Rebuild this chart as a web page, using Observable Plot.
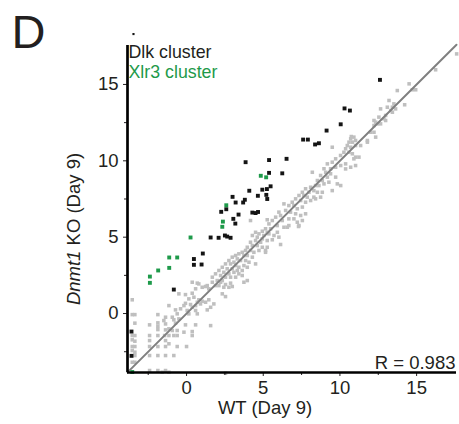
<!DOCTYPE html>
<html><head><meta charset="utf-8">
<script src="https://cdn.jsdelivr.net/npm/d3@7"></script>
<script src="https://cdn.jsdelivr.net/npm/@observablehq/plot@0.6"></script>
<style>html,body{margin:0;padding:0;background:#fff;} svg{display:block}</style>
</head><body><div id="chart"></div>
<script>
const xDomain = [-3.85, 17.6];
const yDomain = [-3.86, 17.55];
const majorTicks = [0, 5, 10, 15];
const minorTicks = [-2.5, 2.5, 7.5, 12.5];
const legendLabels = ["Dlk cluster", "Xlr3 cluster"];
const panelLetter = "D";
const rText = "R = 0.983";
const xTitle = "WT (Day 9)";
const yTitleItalic = "Dnmt1";
const yTitleRest = " KO (Day 9)";

// all other genes (grey)
const otherGenes = [
[0.37,2.05],[0.70,1.99],[1.24,1.77],[1.68,2.05],[1.89,1.83],[2.22,2.05],[2.54,1.90],[2.87,1.99],[2.98,1.77],[2.43,1.72],[2.33,1.29],[2.54,1.11],
[-0.50,1.29],[-0.07,1.24],[0.37,1.33],[0.48,1.07],[0.15,0.96],
[-0.17,0.52],[-0.07,0.67],[0.26,0.59],[0.37,0.41],[0.59,0.52],[0.70,0.74],[0.80,0.90],[0.91,0.63],[1.02,0.81],[1.24,0.74],[1.45,0.90],[1.35,0.24],[1.57,0.41],[1.78,0.63],
[-1.15,0.52],[-0.72,0.24],[-0.39,0.31],[-0.61,-0.02],[0.04,0.20],[0.15,-0.02],[0.59,0.20],[0.70,-0.02],
[-3.54,0.90],[-3.54,-0.07],[-3.37,-0.07],[-1.87,-0.07],[-1.37,-0.24],[-0.93,-0.24],[-0.83,-0.41],[-1.48,-0.46],[-0.50,-0.35],
[-3.37,-0.63],[-2.41,-0.74],[-1.87,-0.61],[-1.87,-0.83],[-1.37,-0.68],[-0.72,-0.63],[-0.07,-0.74],[0.59,-0.74],[1.57,-0.79],
[-1.87,-1.05],[-1.37,-1.07],[-1.15,-1.00],[-0.93,-1.11],[-0.61,-1.11],[-0.17,-1.22],[0.37,-1.18],
[-3.54,-1.44],[-3.37,-1.44],[-2.41,-1.44],[-1.87,-1.44],[-1.43,-1.44],[-1.15,-1.44],[-0.83,-1.44],[-0.61,-1.44],[0.37,-1.44],
[-3.54,-1.72],[-3.37,-1.81],[-2.41,-1.77],[-1.37,-1.77],[-1.15,-1.98],
[-3.54,-2.16],[-3.37,-2.16],[-2.41,-2.16],[-1.87,-2.16],[-1.37,-2.16],[-0.61,-2.16],[0.00,-2.16],
[-3.54,-2.42],[-3.37,-2.53],
[-3.37,-2.75],[-2.41,-2.75],[-1.87,-2.75],[-1.37,-2.75],[-0.83,-2.75],
[-3.54,-3.19],[-3.37,-3.19],
[-2.41,-3.73],[-1.87,-3.73],[-1.37,-3.73],[-1.59,-3.84],[-1.15,-3.84],[2.54,-3.91],
[4.94,5.39],[5.26,5.32],[5.92,5.32],[4.50,5.32],[4.72,5.22],[5.04,5.11],[5.37,5.22],[5.70,5.11],[4.29,5.11],[4.61,5.00],[4.94,4.89],[4.50,4.78],[4.83,4.67],[5.26,4.78],[5.59,4.83],[6.02,5.00],[4.17,4.67],[4.29,4.45],[4.61,4.45],[4.94,4.34],[5.26,4.34],[5.15,4.13],[3.96,4.34],[3.85,4.13],[4.17,4.13],[4.39,4.01],[4.72,4.13],[3.63,4.01],[3.41,3.91],[3.74,3.80],[3.96,3.80],[4.29,3.69],[3.20,3.80],[2.98,3.69],[3.31,3.58],[3.52,3.47],[3.85,3.47],[4.07,3.36],[3.09,3.36],[2.76,3.47],[2.87,3.25],[3.20,3.14],[3.41,3.03],[3.74,3.14],[3.96,3.03],[2.54,3.25],[2.33,3.03],[2.65,2.93],[2.98,2.93],[3.31,2.82],[3.63,2.82],[2.11,2.82],[2.43,2.70],[2.76,2.60],[3.09,2.70],[3.41,2.60],[1.89,2.60],[2.22,2.49],[2.54,2.38],[2.87,2.38],[3.20,2.38],[3.63,2.49],[1.68,2.38],[2.00,2.16],[2.33,2.16],[1.35,1.83],[2.11,1.83],[2.76,1.72],[0.80,1.94],[1.02,1.72],[0.59,1.62],[1.45,1.62],[3.96,2.16],[3.74,2.05],[4.50,3.25],[5.15,4.01],[6.13,4.52],[4.17,6.09],[5.26,6.14],
[9.50,9.91],[9.18,9.80],[9.39,9.48],[9.72,9.58],[10.05,9.69],[10.37,9.80],[10.70,9.58],[8.96,9.48],[9.07,9.25],[9.39,9.15],[9.72,8.93],[9.18,8.93],[8.74,9.04],[8.85,8.71],[8.53,8.71],[8.20,9.25],[8.41,8.38],[8.63,8.38],[8.96,8.49],[9.28,8.60],[10.05,8.38],[8.09,8.27],[7.76,8.17],[7.98,7.94],[8.30,8.05],[8.53,7.94],[7.55,7.94],[7.33,7.73],[7.65,7.73],[7.87,7.62],[8.30,7.62],[8.85,7.94],[9.50,8.05],[7.11,7.51],[7.44,7.40],[7.76,7.29],[8.09,7.40],[8.41,7.51],[6.89,7.29],[6.67,7.07],[7.00,7.07],[7.22,6.86],[7.55,6.97],[6.35,7.18],[6.46,6.75],[6.78,6.64],[7.11,6.53],[7.44,6.42],[7.76,6.53],[6.02,6.64],[6.13,6.42],[5.81,6.31],[6.24,6.09],[6.67,6.20],[7.00,6.20],[7.22,5.98],[7.55,6.09],[5.59,6.09],[5.37,5.87],[5.91,5.76],[6.35,5.65],[6.67,5.76],[5.15,5.55],[5.48,5.55],[7.33,5.76],[11.02,9.69],[10.37,9.47],[8.74,7.62],[7.30,5.70],[6.57,5.65],
[16.24,15.96],[14.51,15.04],[14.72,14.65],[14.94,14.65],[13.74,14.60],[13.20,13.95],[14.22,13.67],[13.52,13.73],[13.42,13.51],[13.63,13.40],[13.31,13.29],[12.65,13.40],[12.98,12.97],[13.42,13.18],[12.54,12.86],[12.87,12.75],[12.98,12.64],[12.33,12.53],[12.44,12.42],[12.22,12.31],[12.65,12.42],[12.00,11.87],[12.22,11.87],[12.33,11.55],[11.79,11.33],[10.91,11.55],[10.70,11.44],[10.59,11.22],[10.81,11.22],[11.02,11.33],[10.48,11.00],[10.37,10.79],[10.70,10.89],[11.02,11.00],[11.35,11.00],[10.26,10.56],[10.59,10.56],[10.81,10.46],[11.02,10.24],[10.04,10.35],[9.72,10.13],[9.50,10.89],[10.91,10.13],[11.24,10.24],[17.61,17.00],[10.74,11.59],[11.79,11.22],[12.22,12.64],[13.09,13.51],[9.83,8.49]
];

// Dlk cluster genes (black)
const dlkGenes = [
[12.61,15.30],[10.30,13.43],[10.65,13.29],[10.05,12.39],[9.13,11.98],[7.60,11.39],[7.91,11.39],[8.38,11.07],[8.63,11.15],
[3.85,9.91],[5.38,10.05],[6.52,10.13],[5.38,9.21],[6.24,9.18],[5.48,8.33],[4.94,8.11],[5.24,8.15],[4.09,8.04],
[4.65,7.71],[5.20,7.77],[5.26,7.50],[3.00,7.64],[3.80,7.45],[3.69,7.27],[3.20,7.27],[2.59,6.83],[2.26,6.66],
[4.29,6.61],[4.50,6.58],[4.66,6.65],[3.39,6.48],[3.05,6.20],[3.18,5.89],
[1.57,4.98],[2.09,4.96],[2.50,5.11],[2.65,5.04],[2.87,4.96],[1.06,3.93],[0.48,3.57],[0.48,3.19],[0.98,3.21],
[-0.83,1.57],[-3.59,-1.18],[-3.59,-2.77]
];
// one Dlk gene lying above the plotted range (small mark)
const dlkOutlier = [[-3.46, 18.3]];

// Xlr3 cluster genes (green)
const xlr3Genes = [
[4.84,9.02],[5.19,8.92],[2.59,7.09],[2.37,6.02],[2.33,5.68],[0.26,4.98],[-1.13,3.67],[-0.61,3.67],
[-1.13,2.99],[-1.85,2.82],[-2.39,2.42],[-2.39,2.01],[-3.54,-3.83]
];

const font = "'Liberation Sans', Arial, Helvetica, sans-serif";
const ink = "#231f20";
const green = "#1e9a4a";

const plot = Plot.plot({
  width: 459, height: 424,
  marginLeft: 127, marginRight: 3, marginTop: 45, marginBottom: 52,
  style: {fontFamily: font, fontSize: "18.5px", color: ink, background: "#fff", overflow: "visible"},
  x: {domain: xDomain},
  y: {domain: yDomain},
  marks: [
    Plot.dot(otherGenes, {x: d => d[0], y: d => d[1], symbol: "square", r: 2, fill: "#bfbfbf", stroke: null}),
    Plot.line(xDomain.map(v => [v, v]), {x: d => d[0], y: d => d[1], stroke: "#808080", strokeWidth: 2}),
    Plot.dot(dlkGenes, {x: d => d[0], y: d => d[1], symbol: "square", r: 2.2, fill: "#141414", stroke: null}),
    Plot.dot(dlkOutlier, {x: d => d[0], y: d => d[1], symbol: "square", r: 1.2, fill: "#141414", stroke: null}),
    Plot.dot(xlr3Genes, {x: d => d[0], y: d => d[1], symbol: "square", r: 2.2, fill: green, stroke: null}),
    Plot.axisX(majorTicks, {tickSize: 4, tickPadding: 4, label: null, stroke: ink}),
    Plot.axisX(minorTicks, {tickSize: 3, tickFormat: () => "", label: null, stroke: ink}),
    Plot.axisY(majorTicks, {tickSize: 4, tickPadding: 5, label: null, stroke: ink}),
    Plot.axisY(minorTicks, {tickSize: 3, tickFormat: () => "", label: null, stroke: ink}),
    Plot.ruleX([xDomain[0]], {stroke: "#000", strokeWidth: 2.7}),
    Plot.ruleY([yDomain[0]], {stroke: "#000", strokeWidth: 2.7}),
    Plot.text([rText], {text: d => d, frameAnchor: "bottom-right", textAnchor: "end", lineAnchor: "bottom", dx: -1, dy: -4, fill: ink}),
    Plot.text([legendLabels[0]], {text: d => d, frameAnchor: "top-left", textAnchor: "start", lineAnchor: "bottom", dx: 1, dy: 12, fill: ink, fontSize: 17.8}),
    Plot.text([legendLabels[1]], {text: d => d, frameAnchor: "top-left", textAnchor: "start", lineAnchor: "bottom", dx: 1, dy: 32, fill: green, fontSize: 17.8}),
    Plot.text([panelLetter], {text: d => d, frameAnchor: "top-left", textAnchor: "start", lineAnchor: "bottom", dx: -116, dy: 2, fontSize: 47, fill: ink}),
    Plot.text([xTitle], {text: d => d, frameAnchor: "bottom", textAnchor: "middle", lineAnchor: "bottom", dx: -27, dy: 41, fill: ink})
  ]
});

const svg = d3.select(plot);
const yt = svg.append("text")
  .attr("transform", "translate(80,229) rotate(-90)")
  .attr("text-anchor", "middle")
  .attr("fill", ink)
  .attr("font-family", font)
  .attr("font-size", "18.5px");
yt.append("tspan").attr("font-style", "italic").text(yTitleItalic);
yt.append("tspan").text(yTitleRest);

document.getElementById("chart").appendChild(plot);
</script>
</body></html>
